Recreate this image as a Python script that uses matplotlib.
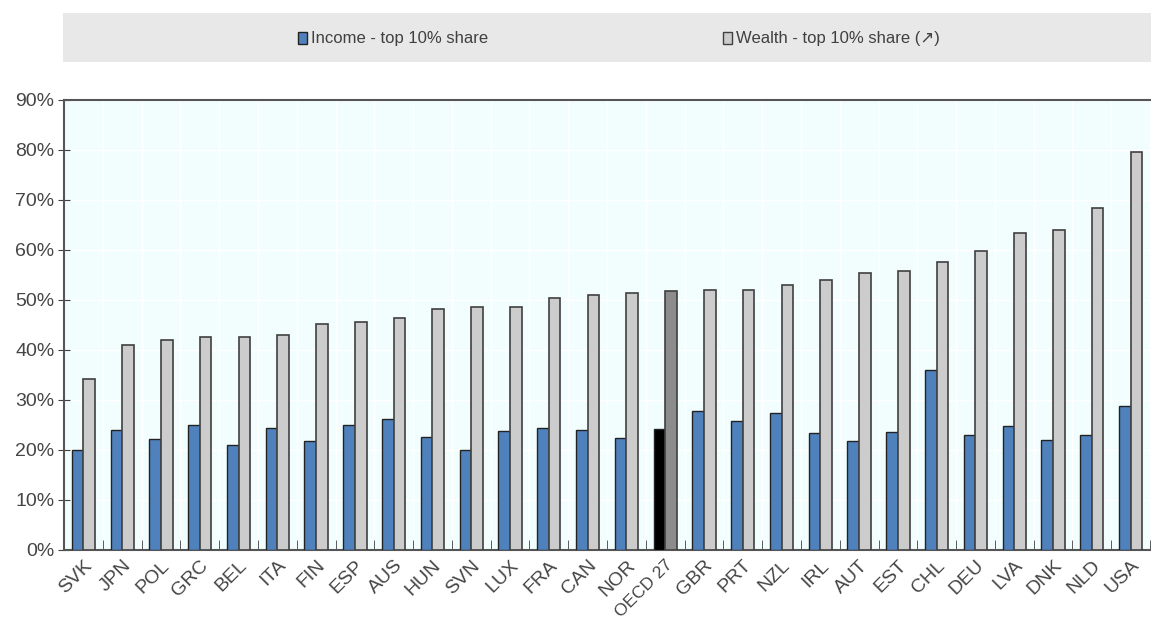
import numpy as np
import matplotlib
matplotlib.use("Agg")
import matplotlib.pyplot as plt
from matplotlib.patches import Rectangle
from matplotlib.ticker import FixedLocator

# data (% share of top 10%)
countries = ["SVK", "JPN", "POL", "GRC", "BEL", "ITA", "FIN", "ESP", "AUS", "HUN",
             "SVN", "LUX", "FRA", "CAN", "NOR", "OECD 27", "GBR", "PRT", "NZL", "IRL",
             "AUT", "EST", "CHL", "DEU", "LVA", "DNK", "NLD", "USA"]
income = [20.1, 24.1, 22.3, 25.0, 21.0, 24.4, 21.9, 25.0, 26.3, 22.6,
          20.1, 23.8, 24.4, 24.1, 22.5, 24.3, 27.8, 25.9, 27.5, 23.4,
          21.8, 23.7, 36.0, 23.0, 24.9, 22.1, 23.0, 28.9]
wealth = [34.3, 41.1, 42.0, 42.7, 42.7, 43.0, 45.3, 45.7, 46.5, 48.3,
          48.7, 48.7, 50.5, 51.1, 51.5, 51.8, 52.1, 52.1, 53.1, 54.0,
          55.5, 55.8, 57.7, 59.8, 63.5, 64.1, 68.5, 79.6]
yticks = [0, 10, 20, 30, 40, 50, 60, 70, 80, 90]

blue = "#4F81BD"
grey = "#CCCCCC"
label_font = ["Liberation Sans", "DejaVu Sans"]
legend_font = ["Liberation Sans Narrow", "Liberation Sans", "DejaVu Sans"]

fig = plt.figure(figsize=(11.51, 6.23), dpi=100)
ax = fig.add_axes([64 / 1151, 1 - 550 / 623, 1086 / 1151, 450 / 623])
ax.set_facecolor("#F2FEFE")

x = np.arange(len(countries))
w = 0.3
inc_colors = ["black" if c == "OECD 27" else blue for c in countries]
wea_colors = ["#8C8C8C" if c == "OECD 27" else grey for c in countries]
ax.bar(x - w / 2, income, w, color=inc_colors, edgecolor="#222222", linewidth=1.0, zorder=3)
ax.bar(x + w / 2, wealth, w, color=wea_colors, edgecolor="#404040", linewidth=1.2, zorder=3)

ax.set_xlim(-0.5, len(countries) - 0.5)
ax.set_ylim(0, 90)

# faint grid
ax.set_yticks(yticks)
ax.set_yticklabels([f"{v}%" for v in yticks], family=label_font, fontsize=14, color="#454545")
ax.yaxis.grid(True, color="white", linewidth=1.0, zorder=0)
ax.xaxis.set_minor_locator(FixedLocator(np.arange(-0.5, len(countries), 1)))
ax.xaxis.grid(True, which="minor", color="white", linewidth=1.0, zorder=0)

ax.set_xticks(x)
ax.set_xticklabels(countries, rotation=45, ha="right", rotation_mode="anchor",
                   family=label_font, fontsize=14, color="#454545")
for lab in ax.get_xticklabels():
    if lab.get_text() == "OECD 27":
        lab.set_fontsize(12.5)
ax.tick_params(axis="x", which="major", length=0, pad=5)
ax.tick_params(axis="x", which="minor", direction="in", length=7, color="#404040")
ax.tick_params(axis="y", direction="inout", length=8, color="#404040", pad=3)

for s in ["left", "bottom", "top"]:
    ax.spines[s].set_color("#555555")
    ax.spines[s].set_linewidth(1.5)
ax.spines["right"].set_visible(False)

# legend strip
fig.patches.append(Rectangle((63 / 1151, 1 - 62 / 623), 1088 / 1151, 49 / 623,
                             transform=fig.transFigure, facecolor="#E8E8E8",
                             edgecolor="none"))
fig.patches.append(Rectangle((298 / 1151, 1 - 44 / 623), 9 / 1151, 12 / 623,
                             transform=fig.transFigure, facecolor=blue,
                             edgecolor="#222222", linewidth=1.0))
fig.text(311 / 1151, 1 - 38 / 623, "Income - top 10% share", family=legend_font,
         fontsize=12, color="#404040", va="center", ha="left")
fig.patches.append(Rectangle((723 / 1151, 1 - 44 / 623), 9 / 1151, 12 / 623,
                             transform=fig.transFigure, facecolor=grey,
                             edgecolor="#404040", linewidth=1.0))
fig.text(736 / 1151, 1 - 38 / 623, "Wealth - top 10% share (\u2197)", family=legend_font,
         fontsize=12, color="#404040", va="center", ha="left")

fig.savefig("out.png", dpi=100)
